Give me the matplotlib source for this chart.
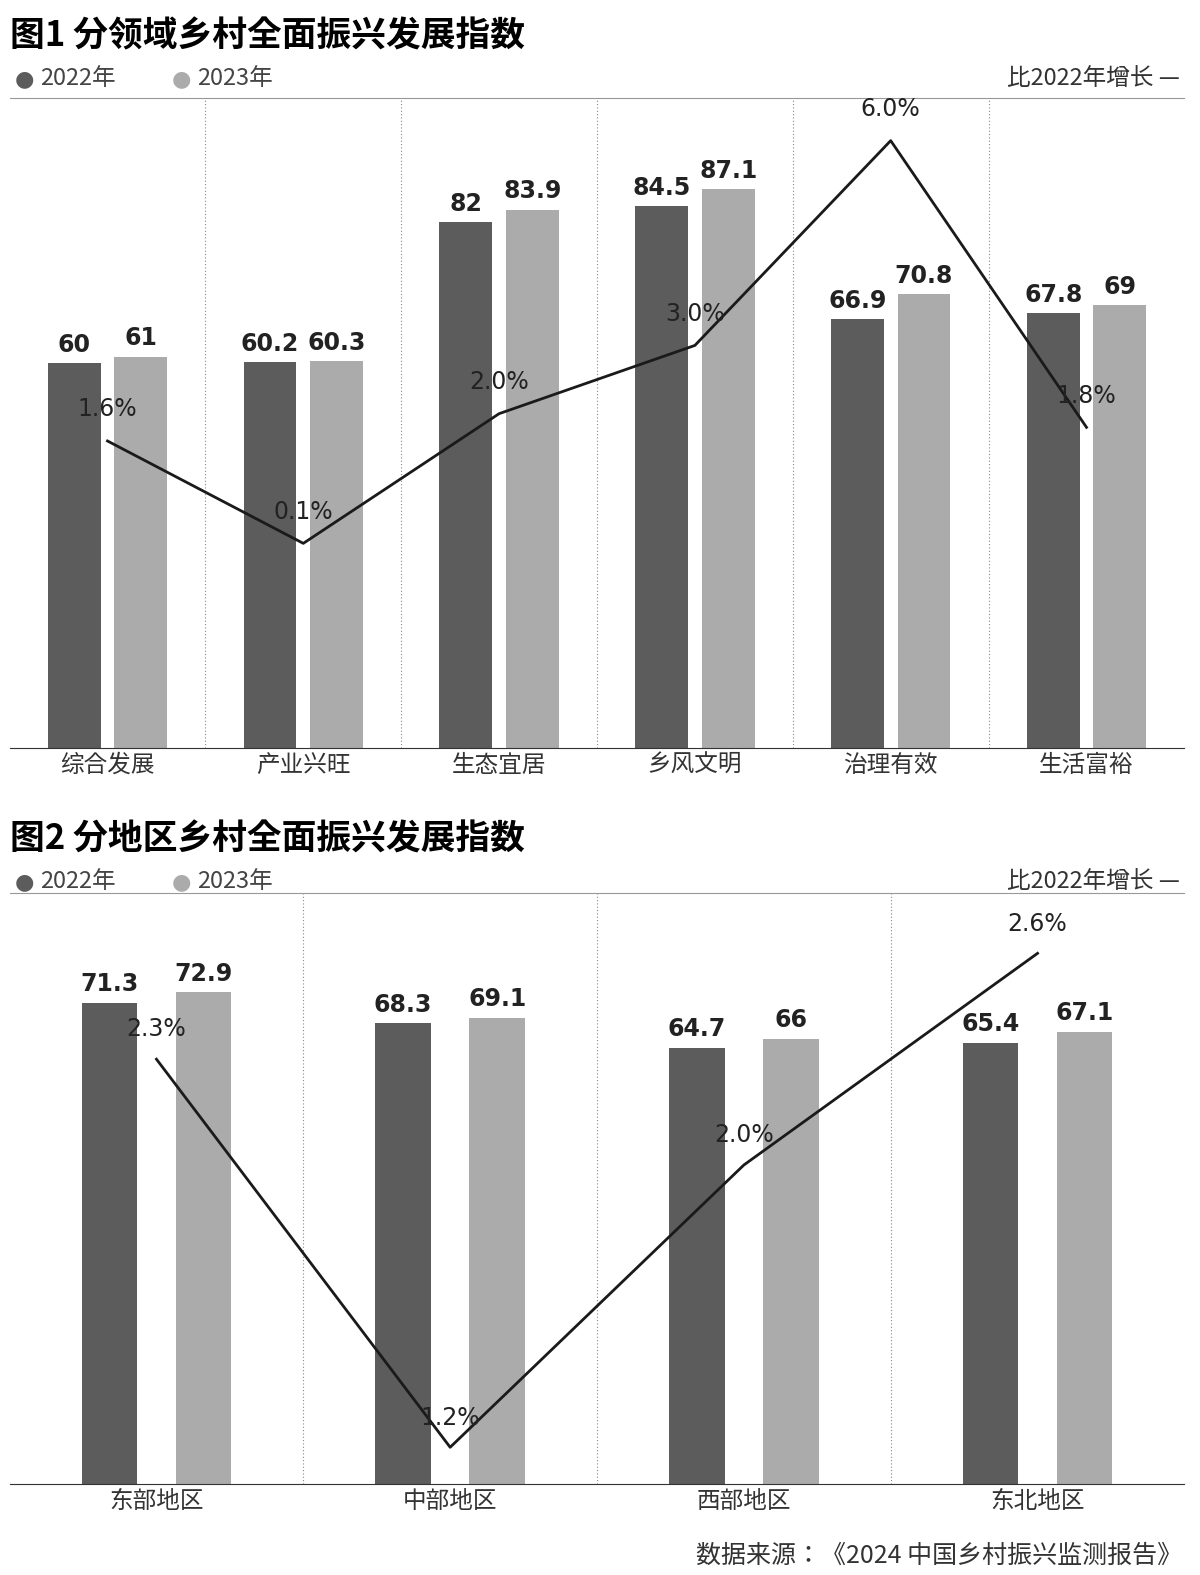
import matplotlib.pyplot as plt
from matplotlib import font_manager
import numpy as np

cjk = [f.name for f in font_manager.fontManager.ttflist if "CJK" in f.name]
pref = [n for n in ["Noto Sans CJK SC", "Noto Sans CJK JP"] if n in cjk] or cjk[:1]
plt.rcParams["font.family"] = ["DejaVu Sans"] + pref
CJK = pref[0] if pref else "DejaVu Sans"

cats1 = ["综合发展", "产业兴旺", "生态宜居", "乡风文明", "治理有效", "生活富裕"]
v2022_1 = [60, 60.2, 82, 84.5, 66.9, 67.8]
v2023_1 = [61, 60.3, 83.9, 87.1, 70.8, 69]
growth1 = [1.6, 0.1, 2.0, 3.0, 6.0, 1.8]
labels1_2022 = ["60", "60.2", "82", "84.5", "66.9", "67.8"]
labels1_2023 = ["61", "60.3", "83.9", "87.1", "70.8", "69"]

cats2 = ["东部地区", "中部地区", "西部地区", "东北地区"]
v2022_2 = [71.3, 68.3, 64.7, 65.4]
v2023_2 = [72.9, 69.1, 66, 67.1]
growth2 = [2.3, 1.2, 2.0, 2.6]
labels2_2022 = ["71.3", "68.3", "64.7", "65.4"]
labels2_2023 = ["72.9", "69.1", "66", "67.1"]

DARK = "#5c5c5c"
LIGHT = "#ababab"

fig = plt.figure(figsize=(12, 15.75), dpi=100)


def panel(rect, cats, a, b, la, lb, g, ylim, gylim, bw, off, fs_val):
    ax = fig.add_axes(rect)
    x = np.arange(len(cats))
    ax.bar(x - off, a, bw, color=DARK)
    ax.bar(x + off, b, bw, color=LIGHT)
    for xi, v, t in zip(x, a, la):
        ax.text(xi - off, v + 1, t, ha="center", va="bottom", fontsize=fs_val,
                fontweight="bold", color="#222222")
    for xi, v, t in zip(x, b, lb):
        ax.text(xi + off, v + 1, t, ha="center", va="bottom", fontsize=fs_val,
                fontweight="bold", color="#222222")
    for s in x[:-1] + 0.5:
        ax.axvline(s, color="#888888", lw=0.8, ls=(0, (1, 2)))
    ax.set_xlim(-0.5, len(cats) - 0.5)
    ax.set_ylim(*ylim)
    ax.set_xticks(x)
    ax.set_xticklabels(cats, fontsize=17, color="#333333", family=CJK)
    ax.tick_params(axis="x", length=0, pad=4)
    ax.set_yticks([])
    for sp in ["left", "right"]:
        ax.spines[sp].set_visible(False)
    ax.spines["top"].set_color("#999999")
    ax.spines["bottom"].set_color("#333333")
    ax2 = ax.twinx()
    ax2.plot(x, g, color="#1a1a1a", lw=2)
    for xi, v in zip(x, g):
        ax2.text(xi, v + 0.03 * (gylim[1] - gylim[0]), f"{v:.1f}%", ha="center",
                 va="bottom", fontsize=17, color="#222222")
    ax2.set_ylim(*gylim)
    ax2.axis("off")
    return ax


panel([0.008, 0.525, 0.979, 0.413], cats1, v2022_1, v2023_1, labels1_2022,
      labels1_2023, growth1, (0, 101.4), (-2.9, 6.63), 0.27, 0.17, 17)
panel([0.008, 0.0578, 0.979, 0.375], cats2, v2022_2, v2023_2, labels2_2022,
      labels2_2023, growth2, (0, 87.6), (1.096, 2.77), 0.19, 0.16, 17)

for ytop, title in [(0.977, "图1 分领域乡村全面振兴发展指数"),
                    (0.467, "图2 分地区乡村全面振兴发展指数")]:
    fig.text(0.008, ytop, title, fontsize=25, fontweight="bold", va="center",
             family=CJK)
    ly = ytop - 0.027
    fig.text(0.012, ly, "●", color=DARK, fontsize=16, va="center")
    fig.text(0.033, ly, "2022年", color="#444444", fontsize=17, va="center", family=CJK)
    fig.text(0.143, ly, "●", color=LIGHT, fontsize=16, va="center")
    fig.text(0.164, ly, "2023年", color="#444444", fontsize=17, va="center", family=CJK)
    fig.text(0.983, ly, "比2022年增长 —", color="#333333", fontsize=17,
             va="center", ha="right", family=CJK)

fig.text(0.985, 0.004, "数据来源：《2024 中国乡村振兴监测报告》", fontsize=18,
         ha="right", va="bottom", color="#333333", family=CJK)

fig.savefig("out.png", dpi=100, facecolor="white")
